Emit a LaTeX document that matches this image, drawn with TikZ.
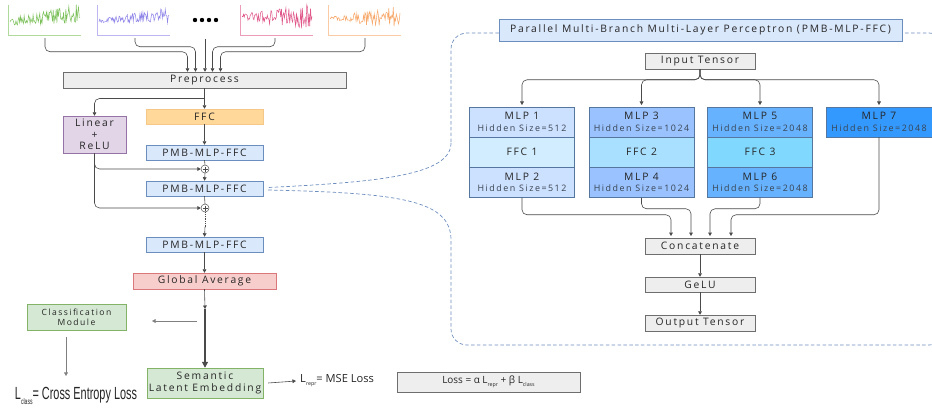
\documentclass[tikz,border=0pt]{standalone}
\usepackage{fontspec}
\usepackage{graphicx}
\setmainfont{Open Sans}
\newfontfamily\spaced[LetterSpace=17]{Open Sans}
\newfontfamily\narrow{Liberation Sans}
\usepackage{tikz}
\usetikzlibrary{calc}
\usetikzlibrary{arrows.meta,positioning}
\usepackage{xcolor}

\newlength\px
\setlength\px{0.03cm}

\definecolor{txt}{HTML}{262626}
\definecolor{hidtxt}{HTML}{3A4450}
\definecolor{linegray}{HTML}{4A4A4A}
\definecolor{boxgray}{HTML}{EEEEEE}
\definecolor{pmbfill}{HTML}{DAE8FC}
\definecolor{pmbline}{HTML}{6C8EBF}
\definecolor{cellline}{HTML}{55779F}
\definecolor{ffcfill}{HTML}{FFD89A}
\definecolor{ffcline}{HTML}{F5C889}
\definecolor{linfill}{HTML}{E1D5E7}
\definecolor{linline}{HTML}{9673A6}
\definecolor{redfill}{HTML}{F8CECC}
\definecolor{redline}{HTML}{D9777A}
\definecolor{grnfill}{HTML}{D5E8D4}
\definecolor{grnline}{HTML}{82B366}
\definecolor{mlpA}{HTML}{CCE0FF}
\definecolor{ffcA}{HTML}{D2EDFF}
\definecolor{mlpB}{HTML}{99C2FF}
\definecolor{ffcB}{HTML}{AAE0FF}
\definecolor{mlpC}{HTML}{66B2FF}
\definecolor{ffcC}{HTML}{80D8FF}
\definecolor{mlpD}{HTML}{3399FF}
\definecolor{sigA}{HTML}{7CC05A}
\definecolor{sigB}{HTML}{8F86E8}
\definecolor{sigC}{HTML}{E0588A}
\definecolor{sigD}{HTML}{F7A86A}

\newcommand\hid[1]{{\fontsize{7.6}{8.5}\selectfont\color{hidtxt}#1}}

\tikzset{
    box/.style={draw, rectangle, inner sep=0pt, align=center, text=txt,
        font=\spaced\fontsize{8.8}{9.6}\selectfont},
    graybox/.style={box, fill=boxgray, draw=linegray!80},
    bluebox/.style={box, fill=pmbfill, draw=pmbline, minimum width=117\px, minimum height=15\px},
    ffcbox/.style={box, fill=ffcfill, draw=ffcline, minimum width=117\px, minimum height=15\px},
    linbox/.style={box, fill=linfill, draw=linline},
    redbox/.style={box, fill=redfill, draw=redline},
    greenbox/.style={box, fill=grnfill, draw=grnline},
    cell/.style={box, draw=cellline, minimum height=30\px},
    plus/.style={circle, draw=linegray, fill=white, minimum size=8\px, inner sep=0pt,
        path picture={\draw[linegray, line width=0.4pt]
            ([yshift=2.5\px]path picture bounding box.center) -- ([yshift=-2.5\px]path picture bounding box.center)
            ([xshift=-2.5\px]path picture bounding box.center) -- ([xshift=2.5\px]path picture bounding box.center);}},
    arr/.style={-{Triangle[length=3pt,width=3.2pt]}, draw=linegray, line width=0.5pt},
    link/.style={rounded corners=5\px},
    callout/.style={draw=pmbline, line width=0.6pt, dash pattern=on 3pt off 2pt}
}

\begin{document}
\begin{tikzpicture}[x=0.03cm, y=-0.03cm]
        \useasboundingbox (0,0) rectangle (932,411);

        % Input signals
        \pgfmathsetseed{11}
        \foreach \x/\c/\base/\slope/\aa/\ab [evaluate=\x as \xs using \x+2, evaluate=\x as \xe using \x+72] in
            {8/sigA/22/-8/4/10, 97/sigB/21/-6/1.5/8, 240/sigC/17/0/3/13, 328/sigD/18/0/1/12}{
            \draw[\c!60, line width=0.5pt] (\x,5) -- (\x,35) -- (\x+73,35);
            \draw[\c, line width=0.45pt] plot[variable=\t, domain=\xs:\xe, samples=95]
                (\t, {\base + \slope*(\t-\x)/72 + (\aa + (\ab-\aa)*(\t-\x)/72)*rand});
        }
        \foreach \i in {0,...,3}
            \fill[black] (195+7*\i,20) circle (2.2\px);

        \coordinate (srcA) at (45,38);
        \coordinate (srcB) at (135,38);
        \coordinate (srcM) at (205,39);
        \coordinate (srcC) at (275,38);
        \coordinate (srcD) at (365,38);

        % Left column
        \node[graybox, minimum width=283\px, minimum height=16\px] (prep) at (204.5,80) {Preprocess};
        \node[linbox, minimum width=63\px, minimum height=37\px, font=\spaced\fontsize{8.8}{10}\selectfont]
            (lin) at (94.5,134.5) {Linear\\+\\ReLU};
        \node[ffcbox] (ffc) at (204.5,116.5) {FFC};
        \node[bluebox] (pmbA) at (204.5,152.5) {PMB-MLP-FFC};
        \node[plus] (plusA) at (205,169) {};
        \node[bluebox] (pmbB) at (204.5,188.5) {PMB-MLP-FFC};
        \node[plus] (plusB) at (205,208) {};
        \coordinate (dotEnd) at (205,227);
        \node[bluebox] (pmbC) at (204.5,244.5) {PMB-MLP-FFC};
        \node[redbox, minimum width=143\px, minimum height=16\px] (gap) at (204.5,281) {Global Average};
        \coordinate (split) at (205,309);
        \node[greenbox, minimum width=99\px, minimum height=26\px, font=\spaced\fontsize{7.3}{8.4}\selectfont]
            (cls) at (76.5,317) {Classification\\Module};
        \coordinate (clsFrom) at (197,321);
        \coordinate (clsTo) at (152,321);
        \coordinate (ceFrom) at (66,337);
        \coordinate (ceTo) at (66,376);
        \node[greenbox, minimum width=116\px, minimum height=30\px] (sem) at (205,383) {Semantic\\Latent Embedding};

        % Losses
        \node[text=txt, inner sep=0pt] (ce) at (76,396)
            {\scalebox{0.62}[1]{\narrow\fontsize{15}{15}\selectfont L\raisebox{-0.5ex}{\fontsize{7}{7}\selectfont class}= Cross Entropy Loss}};
        \node[anchor=west, text=txt, inner sep=0pt, font=\fontsize{9.5}{10}\selectfont] (repr) at (300,381)
            {L\raisebox{-0.5ex}{\fontsize{4.5}{5}\selectfont repr}= MSE Loss};
        \node[graybox, minimum width=183\px, minimum height=20\px, font=\fontsize{8.5}{10}\selectfont] (loss) at (488.5,382)
            {Loss = α L\raisebox{-0.5ex}{\fontsize{4.5}{5}\selectfont repr} + β L\raisebox{-0.5ex}{\fontsize{4.5}{5}\selectfont class}};

        % Signal arrows
        \draw[arr, link] (srcA) |- ([xshift=-17\px, yshift=20\px]prep.north) -- ([xshift=-17\px]prep.north);
        \draw[arr, link] (srcB) |- ([xshift=-9\px, yshift=25\px]prep.north) -- ([xshift=-9\px]prep.north);
        \draw[arr] (srcM) -- (srcM |- prep.north);
        \draw[arr, link] (srcC) |- ([xshift=8\px, yshift=25\px]prep.north) -- ([xshift=8\px]prep.north);
        \draw[arr, link] (srcD) |- ([xshift=16\px, yshift=20\px]prep.north) -- ([xshift=16\px]prep.north);

        % Left column arrows
        \draw[arr] (prep.south) -- (ffc.north);
        \draw[arr, link] ($(prep.south)!0.5!(ffc.north)$) -| (lin.north);
        \draw[arr] (ffc.south) -- (pmbA.north);
        \draw[linegray, line width=0.5pt] (pmbA.south) -- (plusA.north);
        \draw[arr] (plusA.south) -- (pmbB.north);
        \draw[arr, link] (lin.south) |- (plusA.west);
        \draw[arr, link] (lin.south) |- (plusB.west);
        \draw[linegray, line width=0.5pt] (pmbB.south) -- (plusB.north);
        \draw[linegray, line width=0.5pt, densely dotted] (plusB.south) -- (dotEnd);
        \draw[arr] (dotEnd) -- (pmbC.north);
        \draw[arr] (pmbC.south) -- (gap.north);
        \draw[arr] (gap.south) -- (split);
        \draw[-{Triangle[length=5pt,width=5pt]}, draw=linegray, line width=1pt] (split) -- (sem.north);
        \draw[arr, draw=linegray!70] (clsFrom) -- (clsTo);
        \draw[arr, draw=linegray!70] (ceFrom) -- (ceTo);
        \draw[arr] ([xshift=5\px]sem.east) -- ([xshift=-4\px]repr.west);

        % Right panel
        \node[bluebox, minimum width=403\px, minimum height=22\px] (title) at (700.5,30)
            {Parallel Multi-Branch Multi-Layer Perceptron (PMB-MLP-FFC)};
        \node[graybox, minimum width=110\px, minimum height=16\px] (inp) at (700,61) {Input Tensor};

        \foreach \n/\x/\a/\b/\f/\hs in {A/522/1/2/1/512, B/641.5/3/4/2/1024, C/760/5/6/3/2048}{
            \node[cell, fill=mlp\n, minimum width=105\px] (mlp\n1) at (\x,122) {MLP \a\\[0.3pt]\hid{Hidden Size=\hs}};
            \node[cell, fill=ffc\n, minimum width=105\px] (ffc\n) at (\x,152) {FFC \f};
            \node[cell, fill=mlp\n, minimum width=105\px] (mlp\n2) at (\x,182.5) {MLP \b\\[0.3pt]\hid{Hidden Size=\hs}};
        }
        \node[cell, fill=mlpD, minimum width=106\px] (mlpD1) at (879,122) {MLP 7\\[0.3pt]\hid{Hidden Size=2048}};

        \node[graybox, minimum width=110\px, minimum height=16\px] (cat) at (700,246) {Concatenate};
        \node[graybox, minimum width=110\px, minimum height=15\px] (gelu) at (700,284.5) {GeLU};
        \node[graybox, minimum width=110\px, minimum height=16\px] (out) at (700,323) {Output Tensor};

        % Fork out
        \foreach \m in {mlpA1, mlpB1, mlpC1, mlpD1}
            \draw[arr, link, shorten >=1.5pt] (inp.south) |- ([yshift=27\px]\m.north) -- (\m.north);

        % Merge in
        \draw[arr, link, shorten >=1.5pt] (mlpA2.south) |- ([xshift=-29\px, yshift=23\px]cat.north) -- ([xshift=-29\px]cat.north);
        \draw[arr, link, shorten >=1.5pt] (mlpB2.south) |- ([xshift=-9\px, yshift=29\px]cat.north) -- ([xshift=-9\px]cat.north);
        \draw[arr, link, shorten >=1.5pt] (mlpC2.south) |- ([xshift=10\px, yshift=29\px]cat.north) -- ([xshift=10\px]cat.north);
        \draw[arr, link, shorten >=1.5pt] (mlpD1.south) |- ([xshift=31\px, yshift=23\px]cat.north) -- ([xshift=31\px]cat.north);
        \draw[arr] (cat.south) -- (gelu.north);
        \draw[arr] (gelu.south) -- (out.north);

        % Dashed callout
        \draw[callout, rounded corners=16\px] (title.west |- 0,33) -- (451,33) -- (451,143);
        \draw[callout] (451,143) .. controls (451,175) and (380,182) .. ([xshift=5\px, yshift=1\px]pmbB.east);
        \draw[callout] ([xshift=5\px, yshift=-1.5\px]pmbB.east) .. controls (400,193) and (451,200) .. (451,240)
            [rounded corners=16\px] -- (451,345) -- (945,345) -- (945,33) -- (title.east |- 0,33);

    \end{tikzpicture}
\end{document}
